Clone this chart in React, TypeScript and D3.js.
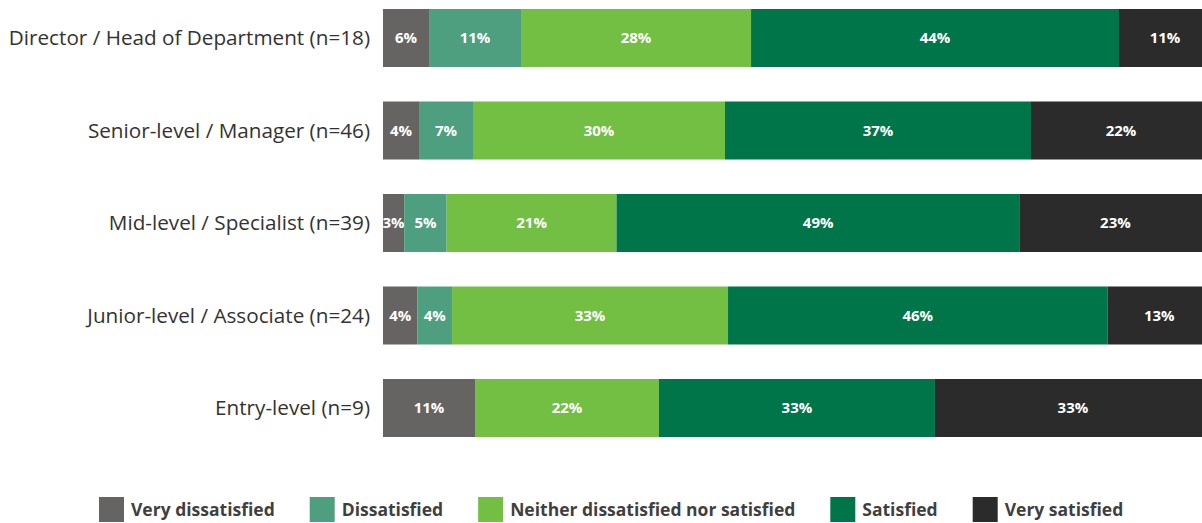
import React, { useEffect, useRef } from "react";
import * as d3 from "d3";

const categories = [
  "Director / Head of Department (n=18)",
  "Senior-level / Manager (n=46)",
  "Mid-level / Specialist (n=39)",
  "Junior-level / Associate (n=24)",
  "Entry-level (n=9)",
];
const seriesNames = [
  "Very dissatisfied",
  "Dissatisfied",
  "Neither dissatisfied nor satisfied",
  "Satisfied",
  "Very satisfied",
];
const seriesColors = ["#666463", "#4d9f7f", "#72bf44", "#00754a", "#2a2b2a"];
// percentages per category, in series order
const veryDissatisfied = [5.56, 4.35, 2.56, 4.17, 11.11];
const dissatisfied = [11.11, 6.52, 5.13, 4.17, 0];
const neither = [27.78, 30.43, 20.51, 33.33, 22.22];
const satisfied = [44.44, 36.96, 48.72, 45.83, 33.33];
const verySatisfied = [11.11, 21.74, 23.08, 12.5, 33.33];
const seriesValues = [veryDissatisfied, dissatisfied, neither, satisfied, verySatisfied];

const W = 1202;
const H = 523;
const FONT = "'Open Sans', 'Noto Sans', sans-serif";

export default function App() {
  const ref = useRef<SVGSVGElement | null>(null);
  useEffect(() => {
    const svg = d3.select(ref.current);
    svg.selectAll("*").remove();

    const x = d3.scaleLinear().domain([0, 100]).range([383, 1211]);
    const y = d3
      .scaleBand<string>()
      .domain(categories)
      .range([-8.25, 454.25])
      .paddingInner(0.373)
      .paddingOuter(0.1865);

    const rows = categories.map((c, i) => {
      const obj: any = { cat: c };
      seriesNames.forEach((s, j) => (obj[s] = seriesValues[j][i]));
      return obj;
    });
    const stack = d3.stack<any>().keys(seriesNames)(rows);

    const g = svg.append("g");
    stack.forEach((layer, j) => {
      const lg = g.append("g").attr("fill", seriesColors[j]);
      layer.forEach((d) => {
        const w = x(d[1]) - x(d[0]);
        if (w <= 0) return;
        lg.append("rect")
          .attr("x", x(d[0]))
          .attr("y", y(d.data.cat)!)
          .attr("width", w)
          .attr("height", y.bandwidth());
        g.append("text")
          .attr("x", (x(d[0]) + x(d[1])) / 2)
          .attr("y", y(d.data.cat)! + y.bandwidth() / 2)
          .attr("dy", "0.36em")
          .attr("text-anchor", "middle")
          .attr("fill", "#ffffff")
          .attr("font-family", FONT)
          .attr("font-weight", 700)
          .attr("font-size", 15)
          .text(Math.round(d[1] - d[0]) + "%");
      });
    });

    // category labels
    svg.append("g")
      .selectAll("text")
      .data(categories)
      .join("text")
      .attr("x", 370)
      .attr("y", (d) => y(d)! + y.bandwidth() / 2)
      .attr("dy", "0.36em")
      .attr("text-anchor", "end")
      .attr("fill", "#333333")
      .attr("font-family", FONT)
      .attr("font-weight", 500)
      .attr("font-size", 20.7)
      .text((d) => d);

    // legend
    const leg = svg.append("g");
    let lx = 99;
    seriesNames.forEach((s, j) => {
      leg.append("rect")
        .attr("x", lx)
        .attr("y", 497)
        .attr("width", 25)
        .attr("height", 25)
        .attr("fill", seriesColors[j]);
      const t = leg.append("text")
        .attr("x", lx + 32)
        .attr("y", 509.5)
        .attr("dy", "0.36em")
        .attr("fill", "#3f3f3f")
        .attr("font-family", FONT)
        .attr("font-weight", 700)
        .attr("font-size", 17.5)
        .text(s);
      const tw = (t.node() as SVGTextElement).getComputedTextLength();
      lx = lx + 32 + tw + 35;
    });
  }, []);
  return (
    <svg
      ref={ref}
      width={W}
      height={H}
      style={{ position: "absolute", left: 0, top: 0, display: "block" }}
    />
  );
}
